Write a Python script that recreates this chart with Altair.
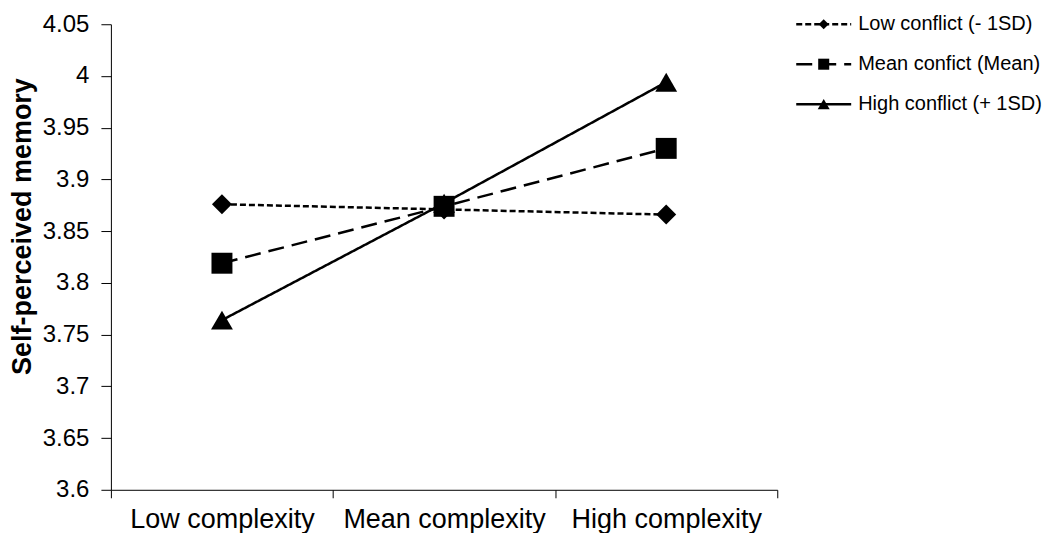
import altair as alt
import pandas as pd

conditions = ["Low complexity", "Mean complexity", "High complexity"]
series = ["Low conflict (- 1SD)", "Mean confict (Mean)", "High conflict (+ 1SD)"]
low_conflict = [3.876, 3.871, 3.866]
mean_conflict = [3.819, 3.874, 3.930]
high_conflict = [3.764, 3.877, 3.994]
y_ticks = [3.6, 3.65, 3.7, 3.75, 3.8, 3.85, 3.9, 3.95, 4.0, 4.05]

rows = []
for s, vals in zip(series, [low_conflict, mean_conflict, high_conflict]):
    for c, v in zip(conditions, vals):
        rows.append({"series": s, "complexity": c, "value": v})
df = pd.DataFrame(rows)

FONT = "Liberation Sans"
dash_scale = alt.Scale(domain=series, range=[[6, 3], [16, 8], [1, 0]])
shape_scale = alt.Scale(domain=series, range=["diamond", "square", "triangle-up"])
size_scale = alt.Scale(domain=series, range=[400, 480, 520])
leg_size_scale = alt.Scale(domain=series, range=[100, 144, 170])

x_enc = alt.X(
    "complexity:N", sort=conditions,
    scale=alt.Scale(paddingInner=0, paddingOuter=0),
    axis=alt.Axis(title=None, tickBand="extent", labelAngle=0, labelFontSize=27,
                  labelLimit=0, tickSize=8, labelPadding=9, grid=False),
)
y_enc = alt.Y(
    "value:Q",
    scale=alt.Scale(domain=[3.6, 4.05], nice=False, zero=False),
    axis=alt.Axis(values=y_ticks, format="~g", title="Self-perceived memory",
                  titleFontSize=27, titleFontWeight="bold", labelFontSize=24,
                  tickSize=10, labelPadding=12, titlePadding=6,
                  titleY=202, grid=False),
)

base = alt.Chart(df)
lines = base.mark_line(color="black", strokeWidth=2.5).encode(
    x=x_enc, y=y_enc,
    strokeDash=alt.StrokeDash("series:N", scale=dash_scale, legend=None),
    detail="series:N",
)
points = base.mark_point(filled=True, color="black", opacity=1).encode(
    x=x_enc, y=y_enc,
    shape=alt.Shape("series:N", scale=shape_scale, legend=None),
    size=alt.Size("series:N", scale=size_scale, legend=None),
)
main = alt.layer(lines, points).properties(width=667, height=466)

leg_df = pd.DataFrame({"series": series})
leg_df["x0"] = 0.0
leg_df["x1"] = 1.0
leg_df["xm"] = 0.5
lx = alt.Scale(domain=[0, 1])
ly = alt.Y("series:N", sort=series, scale=alt.Scale(type="point", padding=0), axis=None)
leg_base = alt.Chart(leg_df)
leg_line = leg_base.mark_rule(color="black", strokeWidth=2.5).encode(
    x=alt.X("x0:Q", scale=lx, axis=None), x2="x1:Q", y=ly,
    strokeDash=alt.StrokeDash("series:N", scale=dash_scale, legend=None),
)
leg_pts = leg_base.mark_point(filled=True, color="black", opacity=1).encode(
    x=alt.X("xm:Q", scale=lx, axis=None), y=ly,
    shape=alt.Shape("series:N", scale=shape_scale, legend=None),
    size=alt.Size("series:N", scale=leg_size_scale, legend=None),
)
leg_txt = leg_base.mark_text(align="left", dx=7, fontSize=20, font=FONT, color="black").encode(
    x=alt.X("x1:Q", scale=lx, axis=None), y=ly, text="series:N",
)
legend = alt.layer(leg_line, leg_pts, leg_txt).resolve_scale(size="independent").properties(width=55, height=80)

chart = alt.hconcat(main, legend, spacing=16).properties(
    padding={"left": 0, "top": 4, "right": 0, "bottom": 0}
).resolve_scale(size="independent").configure(
    font=FONT, background="white"
).configure_view(stroke=None).configure_axis(
    domainColor="black", tickColor="black", labelColor="black", titleColor="black",
    labelFont=FONT, titleFont=FONT,
)

chart.save("out.html", embed_options={"renderer": "svg", "actions": False})
